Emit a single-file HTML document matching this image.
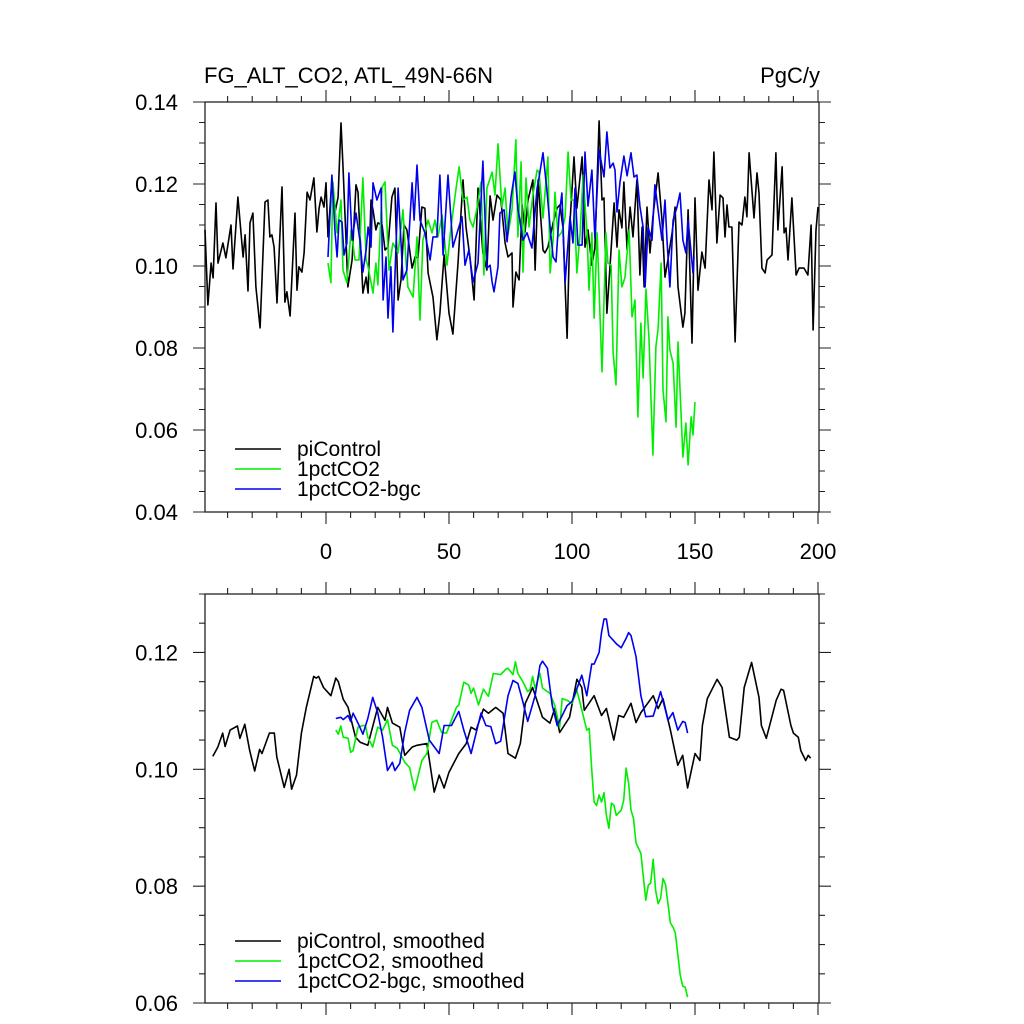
<!DOCTYPE html>
<html><head><meta charset="utf-8"><style>
body{margin:0;background:#fff}
svg{display:block;font-family:"Liberation Sans",sans-serif}
</style></head><body>
<svg id="c" width="1024" height="1024" viewBox="0 0 1024 1024">
<text x="204" y="83" font-size="22">FG_ALT_CO2, ATL_49N-66N</text>
<text x="820" y="83" font-size="22" text-anchor="end">PgC/y</text>
</svg>
<script>
// ---- data: top panel (raw) ----
const piYears=[-49.2,-48,-46.7,-45.9,-44.7,-43.9,-41.9,-40.7,-38.6,-37.8,-35.8,-33.7,-32.9,-31.7,-30.9,-29.7,-28.5,-26.8,-24.8,-23.6,-22.8,-22,-21.1,-19.9,-17.9,-16.7,-15.9,-14.6,-12.6,-11.8,-11,-9.8,-8.9,-7.7,-6.5,-4.9,-3.7,-2.8,-2,-0.8,0,0.8,2.4,3.7,4.9,6.1,6.9,8.1,8.9,10.6,12.2,13,15,16.3,17.1,18.3,19.1,20.3,21.1,22.8,24,25.2,26.8,28,29.3,30.5,31.7,32.9,35,36.2,37.4,39,40.2,41.5,43.5,45.1,46.3,48,50,51.6,53.7,55.7,56.9,58.5,60.2,61.8,63.8,65.4,66.7,67.9,69.5,71.1,72.8,74,75.6,76,77.2,78.5,79.7,80.9,82.1,84.1,85,86.2,88.2,89,90.2,92.3,93.9,95.1,96.3,98,99.2,100.8,102,104.1,105.3,106.5,108.1,109.3,111,112.2,113,114.2,115.4,117.1,118.3,119.1,120.3,121.1,122.4,123.6,124.8,126.4,127.6,128.5,129.3,130.5,131.7,132.9,135,136.6,137.8,139,140.7,141.9,143.1,145.1,145.9,147.2,148.8,150,151.2,152.8,154.1,155.7,156.9,157.7,158.9,160.2,161.4,162.2,163,163.8,165,166.3,167.9,169.1,170.3,171.1,172,174,175.2,176,177.2,178.5,179.3,181.3,182.9,183.7,185.4,186.2,187,187.8,189.4,191.1,192.3,194.3,195.9,197.2,198,199.2,200];
const piValues=[0.1088,0.0905,0.1007,0.0971,0.1154,0.1007,0.1056,0.102,0.110,0.0993,0.1168,0.1022,0.1076,0.0939,0.1105,0.1129,0.0949,0.0849,0.1156,0.1161,0.1071,0.1076,0.1046,0.091,0.1193,0.0912,0.0937,0.0878,0.1129,0.0941,0.0998,0.0985,0.1032,0.118,0.1161,0.1215,0.1083,0.1141,0.1168,0.1144,0.1203,0.1071,0.121,0.1132,0.1168,0.1349,0.1242,0.1071,0.0949,0.1015,0.1198,0.118,0.0934,0.0973,0.0934,0.1161,0.1137,0.1088,0.1105,0.11,0.1039,0.1046,0.1168,0.119,0.0917,0.0966,0.11,0.1088,0.0995,0.1022,0.102,0.1144,0.1141,0.0983,0.0924,0.082,0.0885,0.1027,0.0885,0.0834,0.101,0.121,0.1095,0.1022,0.0917,0.119,0.1032,0.099,0.1171,0.1112,0.1173,0.1161,0.1056,0.1022,0.1032,0.09,0.0985,0.0966,0.1149,0.1083,0.1161,0.121,0.099,0.121,0.1039,0.1032,0.1046,0.1105,0.1141,0.1149,0.1095,0.0824,0.1107,0.1266,0.1141,0.1266,0.1046,0.1088,0.1002,0.1044,0.1354,0.1161,0.1166,0.0885,0.0995,0.1154,0.1046,0.1137,0.1093,0.1205,0.1039,0.1144,0.1071,0.121,0.0978,0.1095,0.0949,0.1144,0.1032,0.112,0.1227,0.1112,0.0973,0.1015,0.1081,0.1144,0.0949,0.0851,0.0885,0.1137,0.0812,0.1166,0.0941,0.1034,0.0995,0.121,0.1137,0.1278,0.1056,0.1173,0.1166,0.1071,0.1149,0.1095,0.1095,0.0815,0.1107,0.11,0.1168,0.112,0.1276,0.1117,0.1227,0.1178,0.0995,0.0983,0.1015,0.1027,0.1276,0.1088,0.1242,0.1081,0.1093,0.1015,0.1166,0.0978,0.0995,0.0995,0.0978,0.11,0.0844,0.1088,0.1144];
const co2Years=[0.8,2,2.8,4.5,6.1,6.9,8.5,10.2,11.8,13.4,15,16.3,17.1,19.1,20.3,21.1,22.8,24,25.6,27.2,29.3,31.3,32.5,33.3,35.4,37,38.2,39.4,41.5,43.1,44.3,45.5,47.2,49.2,50.8,52.4,54.1,55.7,57.3,58.5,59.8,61.4,63,64.2,65.4,67.5,68.7,69.9,71.5,72.8,74,75.6,77.2,78,79.3,80.1,81.3,82.5,84.1,85.8,86.6,88.2,89.4,90.2,91.1,92.3,93.1,94.3,95.9,97.2,98.4,99.6,100.8,102,103.3,104.5,106.1,106.9,108.1,109,110.2,112.2,113.8,114.6,115.9,116.7,117.9,119.1,120.3,121.5,123.2,124.4,125.6,126.8,128,128.9,130.1,131.3,132.9,134.1,135,136.2,137,138.2,139,139.8,141.1,142.3,143.1,145.1,146.3,147.2,148.4,149.2,150];
const co2Values=[0.1007,0.0959,0.1205,0.1081,0.1161,0.099,0.0959,0.1088,0.1015,0.1015,0.1215,0.1015,0.0998,0.0934,0.1007,0.0954,0.1193,0.1205,0.099,0.1056,0.1032,0.1137,0.1015,0.0949,0.0924,0.1071,0.0868,0.1063,0.1112,0.1081,0.1112,0.1071,0.1124,0.1002,0.1095,0.1168,0.1242,0.1161,0.1168,0.1112,0.1095,0.1141,0.1205,0.0978,0.119,0.1229,0.1173,0.1298,0.1144,0.119,0.1076,0.1137,0.1308,0.1071,0.1254,0.0985,0.1215,0.1095,0.1173,0.1234,0.1229,0.1117,0.1205,0.1266,0.0983,0.1063,0.118,0.1071,0.1083,0.112,0.1278,0.1161,0.1161,0.0983,0.1081,0.1222,0.1081,0.0941,0.1081,0.0873,0.1081,0.0742,0.1081,0.1007,0.1002,0.079,0.071,0.1039,0.0949,0.0971,0.1088,0.0876,0.0917,0.0632,0.0861,0.0727,0.0944,0.0822,0.0539,0.0803,0.0847,0.1007,0.0698,0.062,0.0876,0.0795,0.0763,0.0607,0.0815,0.0534,0.0617,0.0515,0.0632,0.0588,0.0668];
const bgcYears=[0.8,2.4,3.7,4.5,5.3,6.5,7.3,8.5,9.3,10.6,11,12.2,13.8,15,16.3,17.1,18.3,19.1,20.7,22.4,23.2,24.4,25.2,26.4,27.2,29.3,31.3,32.9,35,35.8,37,38.2,40.2,42.3,43.5,45.1,46.3,47.6,49.6,51.6,53.3,55.3,56.5,58.1,59.8,61.8,63.8,65.4,66.7,67.5,68.3,69.9,70.7,72.4,73.6,75.2,76.8,78,80.1,81.7,83.7,85.8,86.6,88.2,89.8,91.1,92.3,93.5,94.7,95.9,97.2,99.2,100.4,101.2,102.4,104.1,105.3,106.5,108.1,109.3,111,113,114.2,115.4,116.7,117.5,118.3,119.5,121.1,122.4,124,125.2,126.4,127.6,128.9,129.7,130.9,132.5,133.7,135,136.6,137.8,138.6,139.8,141.1,142.7,143.9,145.1,146.3,147.2,149.2,149.6];
const bgcValues=[0.1022,0.1222,0.1081,0.1022,0.1112,0.1107,0.1027,0.1056,0.1227,0.1063,0.1081,0.1129,0.1063,0.0985,0.1039,0.1095,0.1046,0.1203,0.1161,0.119,0.0917,0.1022,0.0873,0.0998,0.0839,0.119,0.0966,0.099,0.1203,0.1112,0.1246,0.1112,0.1081,0.1015,0.1071,0.1071,0.1222,0.1027,0.1222,0.1046,0.1081,0.112,0.1002,0.1039,0.0961,0.1007,0.1256,0.0995,0.1002,0.0961,0.0937,0.0998,0.1129,0.1137,0.1059,0.1168,0.1229,0.1141,0.1063,0.1081,0.1044,0.119,0.1215,0.1276,0.1185,0.1095,0.1022,0.101,0.112,0.1178,0.0959,0.112,0.1056,0.119,0.1051,0.1051,0.1278,0.1146,0.1234,0.1068,0.1283,0.1217,0.1327,0.1239,0.1251,0.1234,0.1132,0.1205,0.1268,0.122,0.1276,0.1217,0.1222,0.1146,0.1095,0.0949,0.1095,0.1063,0.1198,0.1137,0.1063,0.1161,0.1063,0.0949,0.1112,0.1144,0.1178,0.1063,0.1032,0.1112,0.0983,0.1022];
// ---- data: bottom panel (smoothed) ----
const piSmYears=[-46,-44,-42,-41,-39,-36,-35,-33,-31,-29,-27,-26,-23,-21,-20,-17,-15,-14,-12,-10,-8,-5,-4,-3,-1,2,4,5,7,9,12,14,17,21,24,25,27,30,32,35,37,41,44,46,48,50,54,57,59,61,64,66,69,72,74,77,79,81,84,88,91,93,95,99,102,104,105,109,112,114,117,119,121,124,126,128,133,135,137,140,143,145,147,150,152,153,155,159,161,164,167,168,170,173,176,177,179,183,185,186,189,190,192,193,195,196,197];
const piSmValues=[0.1022,0.1038,0.1062,0.1039,0.1067,0.1074,0.1053,0.1077,0.1032,0.0997,0.1034,0.1027,0.1062,0.1062,0.1021,0.0969,0.1,0.0966,0.099,0.1062,0.1106,0.1159,0.1156,0.1159,0.114,0.1126,0.1156,0.115,0.112,0.1106,0.1055,0.1046,0.1041,0.1106,0.1084,0.1106,0.1079,0.1072,0.1024,0.1038,0.1041,0.1044,0.0961,0.099,0.0968,0.0995,0.1027,0.1044,0.1072,0.1067,0.1103,0.1096,0.1106,0.1096,0.1027,0.1019,0.1044,0.1113,0.114,0.1089,0.1079,0.1104,0.1063,0.1089,0.1154,0.114,0.1101,0.1126,0.1092,0.1104,0.105,0.1092,0.1089,0.1113,0.108,0.1097,0.1126,0.1104,0.1121,0.1067,0.1007,0.1024,0.0968,0.1027,0.1015,0.1075,0.1121,0.1154,0.114,0.1055,0.105,0.1055,0.114,0.1183,0.1123,0.1075,0.1053,0.1118,0.1137,0.1135,0.1075,0.1062,0.1055,0.1032,0.1015,0.1024,0.1019];
const co2SmYears=[4,5,6,7,9,10,11,13,15,16,17,19,21,23,25,27,29,32,34,36,39,41,43,45,47,49,51,53,54,56,58,59,60,62,64,66,68,71,73,74,76,77,78,80,82,83,84,85,87,88,91,93,95,96,98,100,102,103,106,107,108,109,110,111,112,113,114,115,116,117,118,120,121,122,123,124,125,126,128,130,131,132,133,134,135,136,137,138,140,141,142,144,145,146,147];
const co2SmValues=[0.1067,0.106,0.1074,0.1055,0.1053,0.1029,0.1032,0.1072,0.1075,0.1075,0.1055,0.1038,0.1072,0.1067,0.1085,0.1041,0.1036,0.1012,0.1003,0.0964,0.1015,0.1027,0.108,0.1084,0.1063,0.1062,0.1084,0.1106,0.111,0.1149,0.1144,0.113,0.1139,0.111,0.1137,0.1125,0.1164,0.1162,0.1171,0.1173,0.1162,0.1184,0.1164,0.115,0.1133,0.1137,0.1159,0.1139,0.1164,0.1139,0.113,0.1109,0.1072,0.1121,0.1118,0.1113,0.1135,0.1118,0.1067,0.107,0.1,0.0944,0.0938,0.0956,0.0944,0.096,0.0921,0.0899,0.0942,0.0939,0.0921,0.093,0.0947,0.1002,0.0976,0.093,0.0916,0.0874,0.0856,0.0776,0.0802,0.0805,0.0846,0.0793,0.077,0.0779,0.0813,0.0803,0.0737,0.073,0.072,0.0648,0.0629,0.0627,0.061];
const bgcSmYears=[4,6,7,9,10,11,13,15,17,19,21,23,25,27,28,30,32,34,37,39,42,46,48,51,54,56,59,63,65,67,69,71,74,76,78,80,82,85,87,88,90,92,94,98,100,102,104,106,108,109,111,112,113,114,115,118,120,122,123,124,126,128,130,133,136,138,139,141,143,145,146,147];
const bgcSmValues=[0.1087,0.1089,0.1085,0.1092,0.1082,0.1096,0.1079,0.106,0.1087,0.1123,0.1097,0.1055,0.0998,0.1012,0.0998,0.101,0.1063,0.1101,0.1123,0.1106,0.105,0.1027,0.1075,0.1075,0.1099,0.1067,0.1027,0.1096,0.1075,0.1073,0.1044,0.1048,0.1126,0.1152,0.1147,0.1116,0.1082,0.1126,0.1178,0.1185,0.1173,0.1109,0.1075,0.1109,0.1116,0.1138,0.1161,0.1126,0.118,0.118,0.12,0.1234,0.1257,0.1257,0.1229,0.1215,0.1208,0.1224,0.1234,0.1229,0.1193,0.1126,0.109,0.1091,0.1133,0.1101,0.1084,0.1097,0.1067,0.1082,0.108,0.1062];
const xTickLabels=["0","50","100","150","200"];
const topYTicks=["0.04","0.06","0.08","0.10","0.12","0.14"];
const botYTicks=["0.06","0.08","0.10","0.12"];

const NS="http://www.w3.org/2000/svg";
const svg=document.getElementById('c');
const L=205,R=819;
const xs=v=>326+v*2.46;
function mk(tag,attrs,parent){const e=document.createElementNS(NS,tag);for(const k in attrs)e.setAttribute(k,attrs[k]);(parent||svg).appendChild(e);return e;}
function panel(name,top,bot,ymin,ymax,yTicks,showX){
  const g=mk('g',{});
  
  
  const ys=v=>bot-(v-ymin)/(ymax-ymin)*(bot-top);
  const fr=mk('rect',{x:L,y:top,width:R-L,height:bot-top,fill:'none',stroke:'#222','stroke-width':1.3},g);
  
  
  let d='';
  for(let v=-40;v<=200;v+=10){const x=xs(v);const len=(v%50===0)?12:6;
    d+=`M${x},${bot}v${len}M${x},${top}v${-len}`;}
  const steps=Math.round((ymax-ymin)/0.005);
  for(let i=0;i<=steps;i++){const v=ymin+i*0.005;const y=ys(v);const maj=(Math.round(v*1000)%20===0);const len=maj?12:6;
    d+=`M${L},${y}h${-len}M${R},${y}h${len}`;}
  const tk=mk('path',{d:d,stroke:'#222','stroke-width':1.1,fill:'none'},g);
  
  
  yTicks.forEach(t=>{const e=mk('text',{x:178,y:ys(parseFloat(t))+8,'font-size':22,'text-anchor':'end'},g);e.textContent=t;
    
    });
  if(showX){xTickLabels.forEach(t=>{const e=mk('text',{x:xs(parseFloat(t)),y:559,'font-size':22,'text-anchor':'middle'},g);e.textContent=t;
    
    });}
  return {g,ys};
}
function line(p,name,xsArr,vals,color){
  const pts=xsArr.map((x,i)=>xs(x).toFixed(1)+','+p.ys(vals[i]).toFixed(1)).join(' ');
  const e=mk('polyline',{points:pts,fill:'none',stroke:color,'stroke-width':1.6,'stroke-linejoin':'round'},p.g);
  
  
}
function legend(p,items,y0){
  items.forEach((it,i)=>{const y=y0+i*20;
    const l=mk('line',{x1:235,x2:281,y1:y,y2:y,stroke:it[1],'stroke-width':1.6},p.g);
    
    
    const t=mk('text',{x:297,y:y+7,'font-size':21},p.g);t.textContent=it[0];
    
    });
}
const p1=panel('top-panel',102,512,0.04,0.14,topYTicks,true);
line(p1,'piControl-line',piYears,piValues,'#000');
line(p1,'1pctCO2-line',co2Years,co2Values,'#00ee00');
line(p1,'1pctCO2-bgc-line',bgcYears,bgcValues,'#0000ee');
legend(p1,[['piControl','#000'],['1pctCO2','#00ee00'],['1pctCO2-bgc','#0000ee']],449);
const p2=panel('bottom-panel',594,1003,0.06,0.13,botYTicks,false);
line(p2,'piControl-smoothed-line',piSmYears,piSmValues,'#000');
line(p2,'1pctCO2-smoothed-line',co2SmYears,co2SmValues,'#00ee00');
line(p2,'1pctCO2-bgc-smoothed-line',bgcSmYears,bgcSmValues,'#0000ee');
legend(p2,[['piControl, smoothed','#000'],['1pctCO2, smoothed','#00ee00'],['1pctCO2-bgc, smoothed','#0000ee']],941);
</script>
</body></html>
